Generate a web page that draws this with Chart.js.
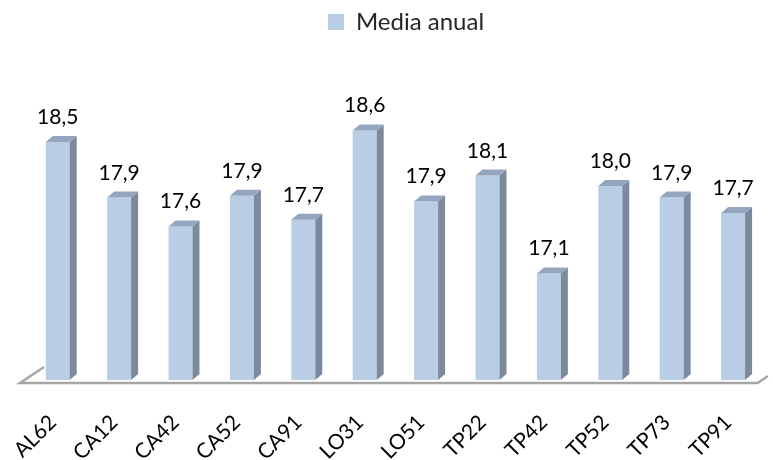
<!DOCTYPE html>
<html>
<head>
<meta charset="utf-8">
<script src="https://cdn.jsdelivr.net/npm/chart.js@4/dist/chart.umd.min.js"></script>
<style>
html,body{margin:0;padding:0;background:#fff;}
canvas{display:block;}
</style>
</head>
<body>
<canvas id="c" width="773" height="460"></canvas>
<script>
const categories = ['AL62','CA12','CA42','CA52','CA91','LO31','LO51','TP22','TP42','TP52','TP73','TP91'];
const mediaAnual = [18.48,17.90,17.60,17.92,17.67,18.60,17.86,18.13,17.11,18.02,17.90,17.74];
const seriesName = 'Media anual';
const yMin = 16;
const yMax = 19.5;

const FRONT = '#b9cde5';
const SIDE = '#7b8a9d';
const TOP = '#93a6bd';
const DX = 7, DY = 6;
const FONT = 'Lato, "Open Sans", sans-serif';

const bar3d = {
  id: 'bar3d',
  afterLayout(chart) {
    chart.legend.left += 9;
    chart.legend.right += 9;
  },
  beforeDatasetsDraw(chart) {
    const {ctx, chartArea: a, scales: {y}} = chart;
    const yb = y.getPixelForValue(yMin) + 3;
    ctx.save();
    ctx.strokeStyle = '#a6a6a6';
    ctx.lineWidth = 2.5;
    ctx.beginPath();
    ctx.moveTo(a.left + 17, yb - 16);
    ctx.lineTo(a.left - 7, yb);
    ctx.lineTo(a.right - 6, yb);
    ctx.lineTo(a.right + 4, yb - 7);
    ctx.stroke();
    ctx.restore();
  },
  afterDatasetsDraw(chart) {
    const ctx = chart.ctx;
    const meta = chart.getDatasetMeta(0);
    const base = chart.scales.y.getPixelForValue(yMin);
    ctx.save();
    meta.data.forEach((el, i) => {
      const p = el.getProps(['x', 'y', 'width'], true);
      const l = p.x - p.width / 2, r = p.x + p.width / 2;
      ctx.fillStyle = SIDE;
      ctx.beginPath();
      ctx.moveTo(r, p.y); ctx.lineTo(r + DX, p.y - DY);
      ctx.lineTo(r + DX, base - DY); ctx.lineTo(r, base);
      ctx.closePath(); ctx.fill();
      ctx.fillStyle = TOP;
      ctx.beginPath();
      ctx.moveTo(l, p.y); ctx.lineTo(l + DX, p.y - DY);
      ctx.lineTo(r + DX, p.y - DY); ctx.lineTo(r, p.y);
      ctx.closePath(); ctx.fill();
      ctx.fillStyle = '#000';
      ctx.font = '21px ' + FONT;
      ctx.textAlign = 'center';
      ctx.textBaseline = 'alphabetic';
      const v = chart.data.datasets[0].data[i];
      ctx.fillText(v.toFixed(1).replace('.', ','), p.x, p.y - 18);
    });
    ctx.restore();
  }
};

new Chart(document.getElementById('c'), {
  type: 'bar',
  data: {
    labels: categories,
    datasets: [{
      label: seriesName,
      data: mediaAnual,
      backgroundColor: FRONT,
      borderWidth: 0,
      barPercentage: 0.39,
      categoryPercentage: 1.0
    }]
  },
  options: {
    responsive: false,
    animation: false,
    layout: { padding: { left: 25, right: 4, top: 0, bottom: 0 } },
    plugins: {
      tooltip: { enabled: false },
      legend: {
        position: 'top',
        labels: {
          boxWidth: 16, boxHeight: 16,
          color: '#262626',
          font: { family: FONT, size: 24 }
        }
      }
    },
    scales: {
      y: { display: false, min: yMin, max: yMax },
      x: {
        grid: { display: false },
        border: { display: false },
        afterFit(scale) { scale.height = 80; },
        ticks: {
          color: '#000',
          font: { family: FONT, size: 21 },
          minRotation: 45, maxRotation: 45,
          padding: 22,
          labelOffset: -5
        }
      }
    }
  },
  plugins: [bar3d]
});
</script>
</body>
</html>
